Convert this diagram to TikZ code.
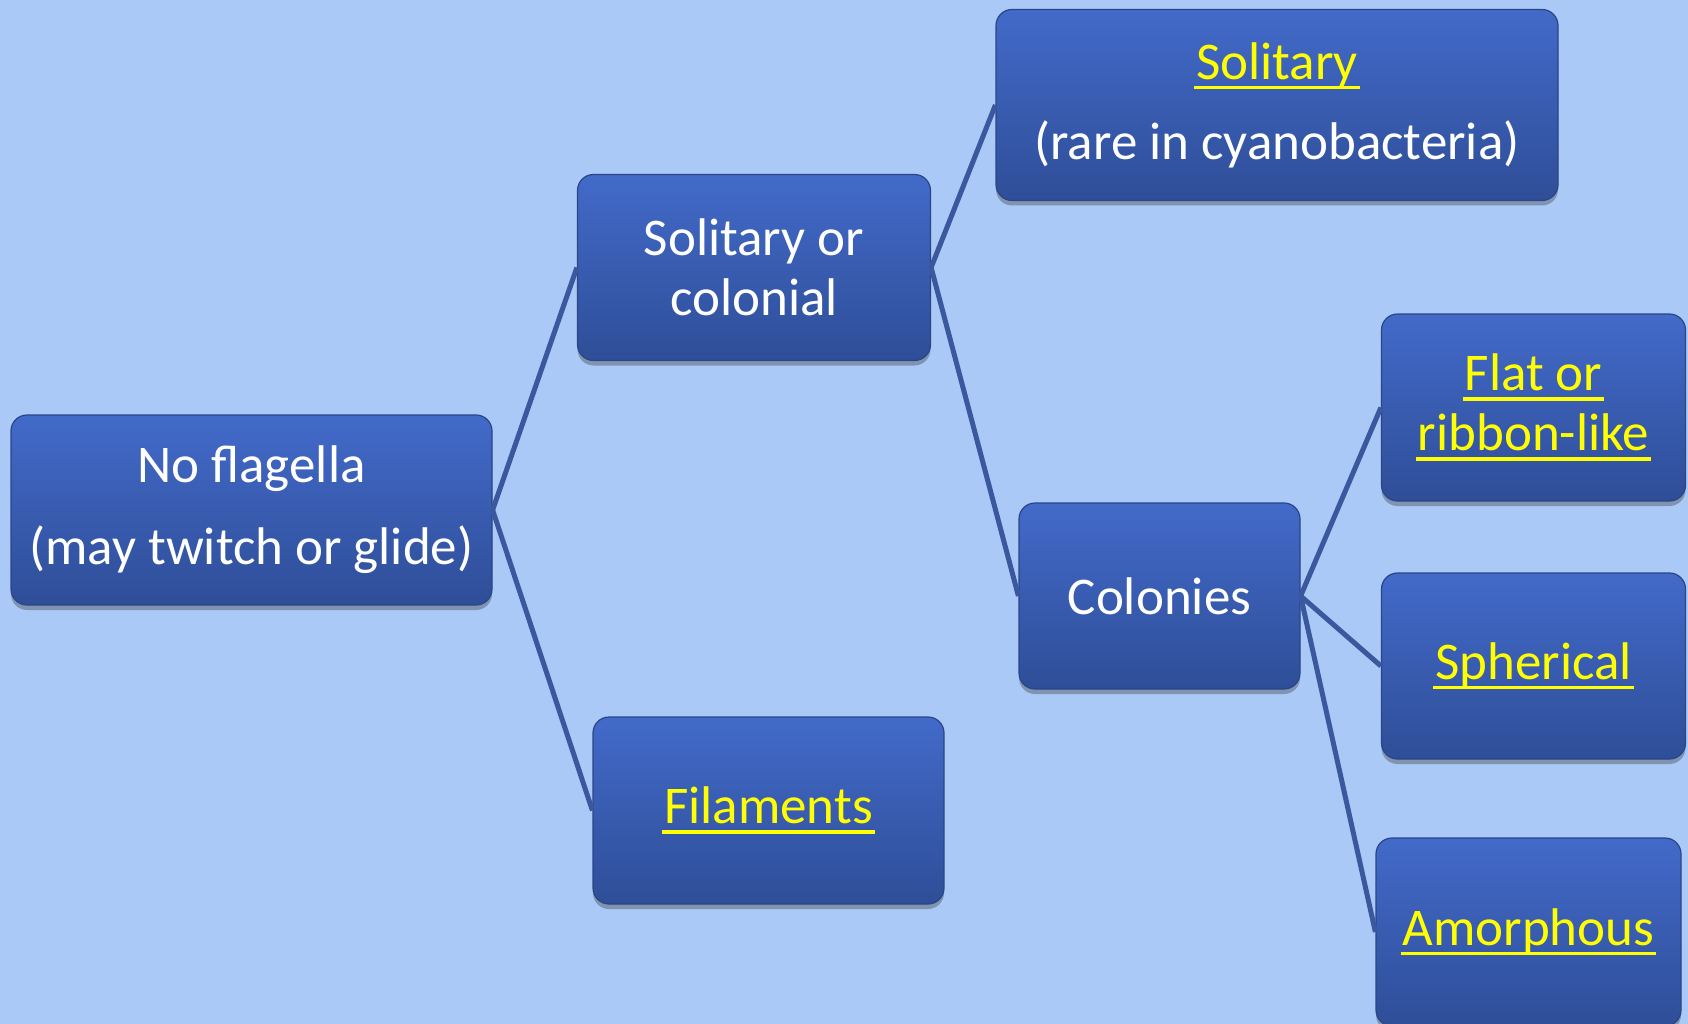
\documentclass[tikz,border=0pt]{standalone}
\usepackage{fontspec}
\setmainfont{Carlito}
\usetikzlibrary{shadows}
\definecolor{bgblue}{RGB}{170,201,246}
\definecolor{boxtop}{RGB}{66,106,201}
\definecolor{boxbot}{RGB}{47,78,152}
\definecolor{boxedge}{RGB}{42,70,135}
\definecolor{linkc}{RGB}{58,88,158}
\definecolor{ylw}{RGB}{255,255,0}
\newcommand\yul[1]{\setbox0\hbox{#1}\rlap{\kern-2pt\rule[-10pt]{\dimexpr\wd0+4pt\relax}{3.5pt}}\box0}
\tikzset{
  tbox/.style={draw=boxedge, line width=1.2pt, rounded corners=16pt,
    top color=boxtop, bottom color=boxbot, inner sep=0pt,
    text=white, align=center,
    font=\fontsize{53}{60}\selectfont,
    drop shadow={shadow xshift=0pt, shadow yshift=-5pt, opacity=0.35, fill=black!80}},
  link/.style={draw=linkc, line width=5pt},
}
\begin{document}
\begin{tikzpicture}[x=1pt,y=-1pt]
\fill[bgblue] (0,0) rectangle (1688,1024);
\useasboundingbox (0,0) rectangle (1688,1024);
\node[tbox, minimum width=481pt, minimum height=190pt] (nf) at (251.5,510) {No flagella\\[22pt](may twitch or glide)};
\node[tbox, minimum width=353pt, minimum height=186pt] (sc) at (754,267.5) {Solitary or\\colonial};
\node[tbox, minimum width=351pt, minimum height=187pt] (fil) at (768.5,810.5) {\textcolor{ylw}{\yul{Filaments}}};
\node[tbox, minimum width=562pt, minimum height=191pt] (sol) at (1277,105) {\textcolor{ylw}{\yul{Solitary}}\\[20pt](rare in cyanobacteria)};
\node[tbox, minimum width=281pt, minimum height=186pt] (col) at (1159.5,596) {Colonies};
\node[tbox, minimum width=304pt, minimum height=187pt] (flat) at (1533.5,407.5) {\textcolor{ylw}{\yul{Flat or}}\\\textcolor{ylw}{\yul{ribbon-like}}};
\node[tbox, minimum width=304pt, minimum height=186pt] (sph) at (1533.5,666) {\textcolor{ylw}{\yul{Spherical}}};
\node[tbox, minimum width=305pt, minimum height=188pt] (amo) at (1528.5,932) {\textcolor{ylw}{\yul{Amorphous}}};
\draw[link] (nf.east) -- (sc.west);
\draw[link] (nf.east) -- (fil.west);
\draw[link] (sc.east) -- (sol.west);
\draw[link] (sc.east) -- (col.west);
\draw[link] (col.east) -- (flat.west);
\draw[link] (col.east) -- (sph.west);
\draw[link] (col.east) -- (amo.west);
\end{tikzpicture}
\end{document}
